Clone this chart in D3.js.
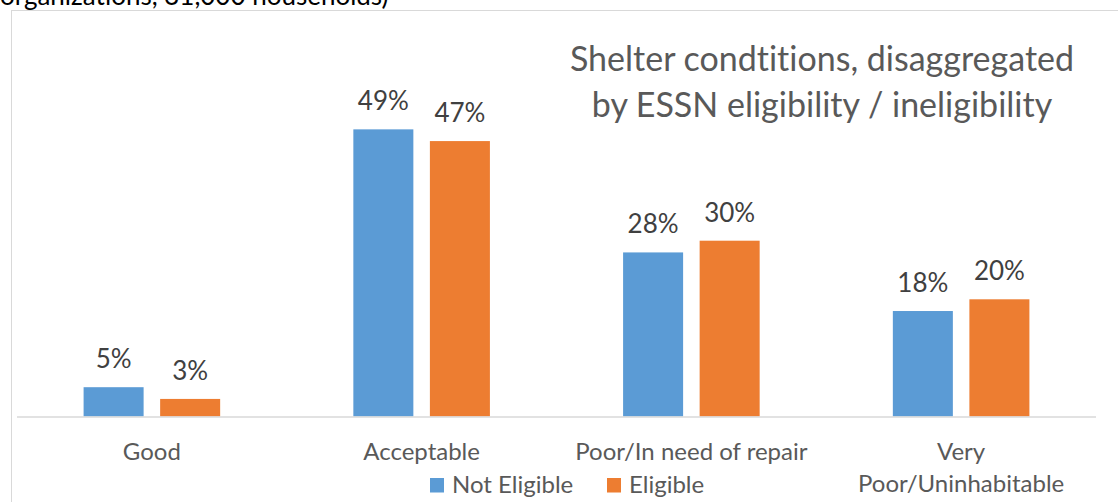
<!DOCTYPE html>
<html lang="en">
<head>
    <meta charset="UTF-8">
    <script src="https://cdn.jsdelivr.net/npm/d3@7"></script>
    <title>Shelter conditions</title>
    <style>
        body { margin: 0; background: #fff; }
        text { font-family: Lato, "Open Sans", sans-serif; font-variant-ligatures: none; }
    </style>
</head>
<body>
    <div class="fig"></div>
    <script>
        const categories = ["Good", "Acceptable", "Poor/In need of repair", "Very Poor/Uninhabitable"];
        const categoryLines = [["Good"], ["Acceptable"], ["Poor/In need of repair"], ["Very", "Poor/Uninhabitable"]];
        const seriesNames = ["Not Eligible", "Eligible"];
        const notEligible = [5, 49, 28, 18];
        const eligible = [3, 47, 30, 20];
        const colors = ["#5B9BD5", "#ED7D31"];
        const titleLines = ["Shelter condtitions, disaggregated", "by ESSN eligibility / ineligibility"];

        const width = 1118, height = 502;
        const svg = d3.select(".fig").append("svg")
            .attr("width", width)
            .attr("height", height);

        // cut-off caption from the page above the chart
        svg.append("text")
            .attr("x", 0).attr("y", 5)
            .attr("font-size", 26)
            .attr("fill", "#000")
            .text("organizations, 31,000 households)");

        // chart frame (runs off the right and bottom of the picture)
        svg.append("rect")
            .attr("x", 11.5).attr("y", 10.5)
            .attr("width", 1200).attr("height", 600)
            .attr("fill", "none")
            .attr("stroke", "#d9d9d9");

        const x0 = d3.scaleBand().domain(categories).range([17, 1096]);
        const x1 = d3.scaleBand().domain(seriesNames)
            .range([0, x0.bandwidth()])
            .paddingInner(0.216).paddingOuter(0.87);
        const y = d3.scaleLinear().domain([0, 60]).range([416.5, 64.9]);

        const rows = categories.map((c, i) => ({
            cat: c,
            vals: [notEligible[i], eligible[i]]
        }));

        const groups = svg.selectAll("g.grp")
            .data(rows)
            .enter().append("g")
            .attr("class", "grp")
            .attr("transform", d => `translate(${x0(d.cat)},0)`);

        groups.selectAll("rect")
            .data(d => d.vals.map((v, j) => ({ key: seriesNames[j], v, j })))
            .enter().append("rect")
            .attr("x", d => x1(d.key))
            .attr("y", d => y(d.v))
            .attr("width", x1.bandwidth())
            .attr("height", d => y(0) - y(d.v))
            .attr("fill", d => colors[d.j]);

        groups.selectAll("text.lbl")
            .data(d => d.vals.map((v, j) => ({ key: seriesNames[j], v })))
            .enter().append("text")
            .attr("class", "lbl")
            .attr("x", d => x1(d.key) + x1.bandwidth() / 2)
            .attr("y", d => y(d.v) - 19)
            .attr("text-anchor", "middle")
            .attr("font-size", 26)
            .attr("fill", "#404040")
            .text(d => d.v + "%");

        // baseline
        svg.append("line")
            .attr("x1", 17).attr("x2", 1096)
            .attr("y1", 417).attr("y2", 417)
            .attr("stroke", "#d9d9d9")
            .attr("stroke-width", 1.5);

        // category labels
        svg.selectAll("text.cat")
            .data(categories)
            .enter().append("text")
            .attr("class", "cat")
            .attr("x", d => x0(d) + x0.bandwidth() / 2)
            .attr("y", 460)
            .attr("text-anchor", "middle")
            .attr("font-size", 24)
            .attr("fill", "#595959")
            .each(function (d, i) {
                d3.select(this).selectAll("tspan")
                    .data(categoryLines[i])
                    .enter().append("tspan")
                    .attr("x", x0(d) + x0.bandwidth() / 2)
                    .attr("dy", (t, k) => k === 0 ? 0 : 31.7)
                    .text(t => t);
            });

        // title
        svg.append("text")
            .attr("x", 822)
            .attr("text-anchor", "middle")
            .attr("font-size", 34)
            .attr("fill", "#595959")
            .selectAll("tspan")
            .data(titleLines)
            .enter().append("tspan")
            .attr("x", 822)
            .attr("y", (d, i) => 71 + i * 46)
            .text(d => d);

        // legend
        const legendX = [430, 607];
        const legend = svg.selectAll("g.leg")
            .data(seriesNames)
            .enter().append("g")
            .attr("class", "leg")
            .attr("transform", (d, i) => `translate(${legendX[i]},0)`);
        legend.append("rect")
            .attr("x", 0).attr("y", 478)
            .attr("width", 14).attr("height", 14.5)
            .attr("fill", (d, i) => colors[i]);
        legend.append("text")
            .attr("x", 22).attr("y", 492.7)
            .attr("font-size", 24)
            .attr("fill", "#595959")
            .text(d => d);
    </script>
</body>
</html>
